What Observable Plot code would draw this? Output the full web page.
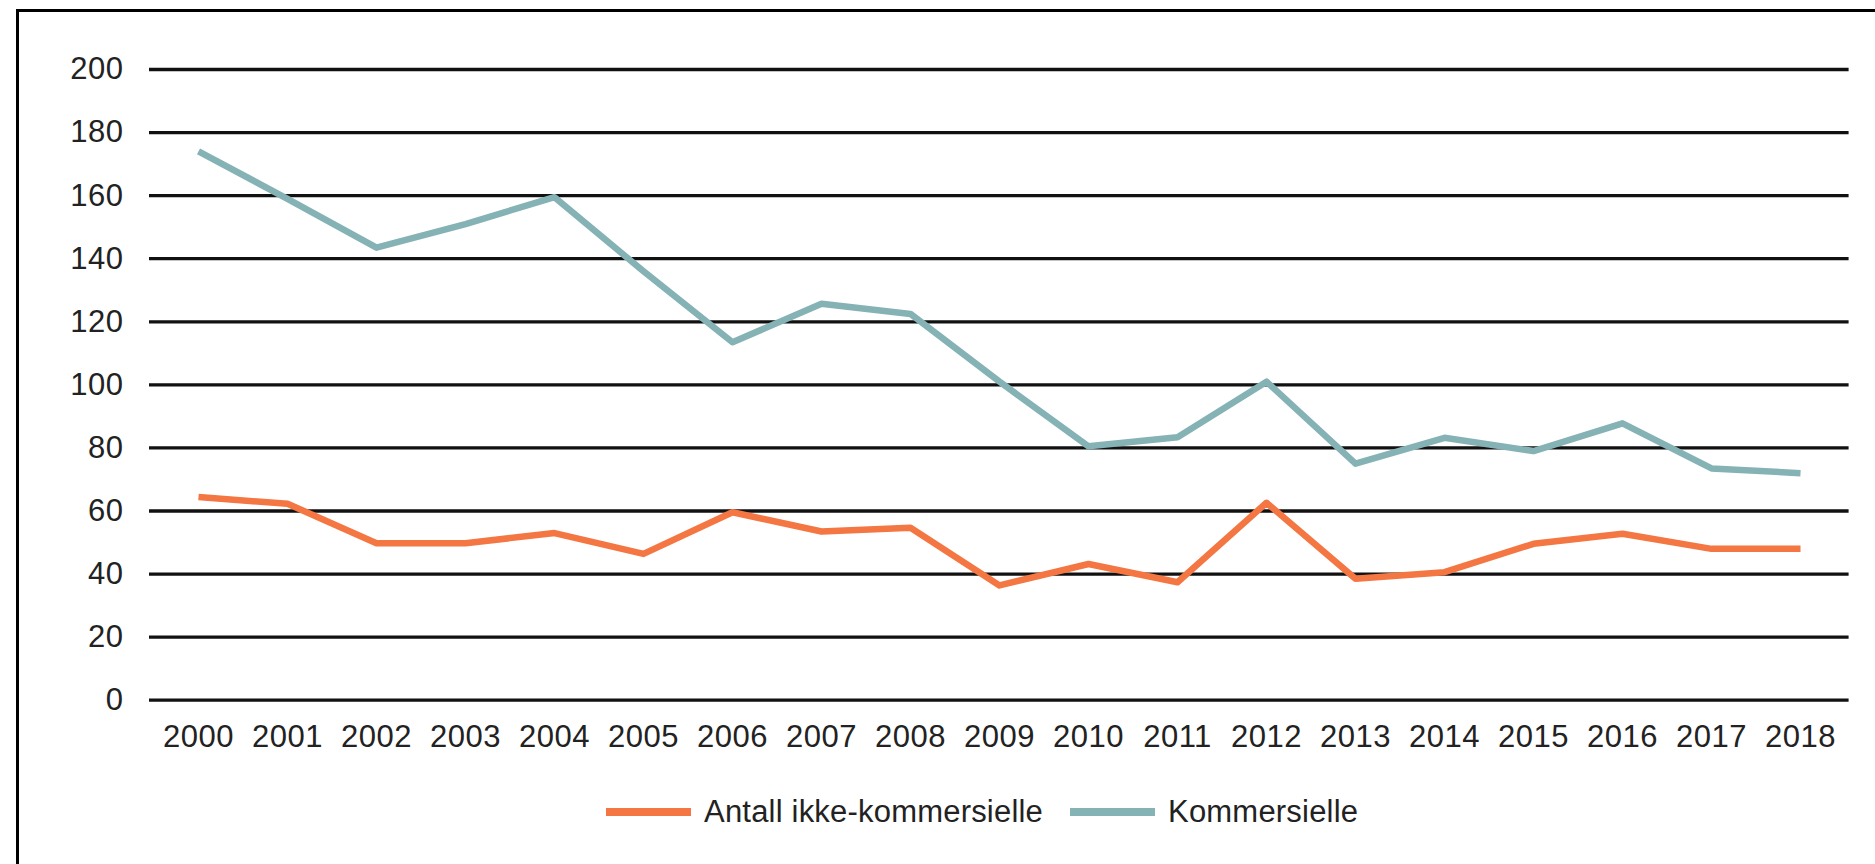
<!DOCTYPE html>
<html><head><meta charset="utf-8">
<script src="https://cdn.jsdelivr.net/npm/d3@7"></script>
<script src="https://cdn.jsdelivr.net/npm/@observablehq/plot@0.6"></script>
<style>
html,body{margin:0;padding:0;background:#fff;}
#wrap{position:relative;width:1875px;height:864px;overflow:hidden;font-family:"Liberation Sans",Arial,sans-serif;}
#frame{position:absolute;left:16px;top:9px;right:-10px;bottom:-10px;border-left:3.5px solid #000;border-top:3.5px solid #000;}
#chart{position:absolute;left:0;top:0;}
#legend{position:absolute;left:606px;top:795px;display:flex;align-items:center;font-size:31px;letter-spacing:0.2px;line-height:34px;color:#222;}
.item{display:flex;align-items:center;margin-right:27px;}
.sw{display:inline-block;width:85px;height:8px;margin-right:13px;}
</style></head>
<body>
<div id="wrap">
  <div id="frame"></div>
  <div id="chart"></div>
  <div id="legend"></div>
</div>
<script>
const years = ["2000","2001","2002","2003","2004","2005","2006","2007","2008","2009","2010","2011","2012","2013","2014","2015","2016","2017","2018"];
const ikkeKommersielle = [64.4, 62.3, 49.8, 49.8, 53, 46.4, 59.6, 53.5, 54.7, 36.4, 43.2, 37.4, 62.6, 38.5, 40.6, 49.6, 52.8, 48, 48];
const kommersielle = [174, 159, 143.5, 151, 159.5, 136, 113.5, 125.7, 122.5, 101, 80.5, 83.4, 101, 75, 83.2, 79, 87.8, 73.5, 72];
const yTicks = [0, 20, 40, 60, 80, 100, 120, 140, 160, 180, 200];
const seriesNames = ["Antall ikke-kommersielle", "Kommersielle"];
const seriesColors = ["#f47642", "#85b2b4"];

const rows = [];
years.forEach((yr, i) => rows.push({year: yr, value: ikkeKommersielle[i], series: seriesNames[0]}));
years.forEach((yr, i) => rows.push({year: yr, value: kommersielle[i], series: seriesNames[1]}));

const font = "'Liberation Sans', Arial, sans-serif";
const chart = Plot.plot({
  width: 1875,
  height: 770,
  marginTop: 69,
  marginBottom: 70.3,
  marginLeft: 149,
  marginRight: 26.4,
  style: {fontFamily: font, fontSize: "31px", letterSpacing: "0.5px", color: "#222", background: "transparent", overflow: "visible"},
  x: {type: "point", domain: years, padding: 0.5},
  y: {domain: [0, 200]},
  color: {domain: seriesNames, range: seriesColors},
  marks: [
    Plot.ruleY(yTicks, {stroke: "#111", strokeWidth: 3.3}),
    Plot.axisY(yTicks, {tickSize: 0, tickPadding: 26, fontSize: 31, label: null}),
    Plot.axisX(years, {tickSize: 0, tickPadding: 25, fontSize: 31, label: null}),
    Plot.line(rows, {x: "year", y: "value", z: "series", stroke: "series", strokeWidth: 6.5, strokeLinejoin: "round", strokeLinecap: "butt"})
  ]
});
document.getElementById("chart").appendChild(chart);

const legend = document.getElementById("legend");
seriesNames.forEach((name, i) => {
  const item = document.createElement("div");
  item.className = "item";
  const sw = document.createElement("span");
  sw.className = "sw";
  sw.style.background = seriesColors[i];
  const t = document.createElement("span");
  t.textContent = name;
  item.appendChild(sw);
  item.appendChild(t);
  legend.appendChild(item);
});
</script>
</body></html>
